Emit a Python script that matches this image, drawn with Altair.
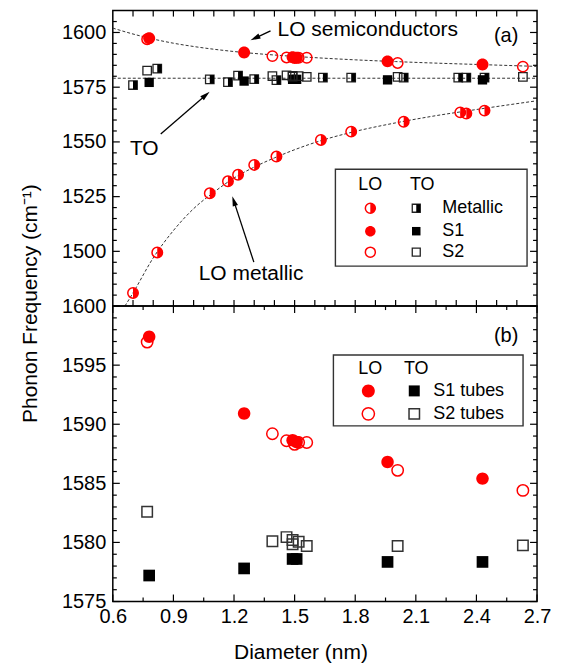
import math
import altair as alt
import pandas as pd

# ---------------- data ----------------
# S1 / S2 semiconducting tubes (used in both panels)
s1_lo_d = [0.78, 1.25, 1.49, 1.51, 1.96, 2.43]
s1_lo_w = [1597.4, 1590.9, 1588.65, 1588.5, 1586.8, 1585.4]
s2_lo_d = [0.77, 1.39, 1.46, 1.50, 1.52, 1.56, 2.01, 2.63]
s2_lo_w = [1596.95, 1589.2, 1588.6, 1588.3, 1588.45, 1588.45, 1586.1, 1584.4]
s1_to_d = [0.78, 1.25, 1.49, 1.51, 1.96, 2.43]
s1_to_w = [1577.2, 1577.8, 1578.6, 1578.6, 1578.35, 1578.35]
s2_to_d = [0.77, 1.39, 1.46, 1.49, 1.49, 1.52, 1.56, 2.01, 2.63]
s2_to_w = [1582.6, 1580.1, 1580.45, 1580.2, 1579.85, 1580.05, 1579.7, 1579.7, 1579.75]

# metallic tubes (panel a)
met_lo_d = [0.70, 0.82, 1.08, 1.17, 1.22, 1.30, 1.41, 1.63, 1.78, 2.04, 2.32, 2.35, 2.44]
met_lo_w = [1481, 1499.5, 1526.5, 1532, 1535, 1539.5, 1543.3, 1550.9, 1554.7, 1559.2, 1563.5, 1563, 1564.3]
met_to_d = [0.70, 0.82, 1.08, 1.17, 1.22, 1.30, 1.41, 1.64, 1.78, 2.04, 2.31, 2.35, 2.44]
met_to_w = [1576, 1583.5, 1578.6, 1577.3, 1580.3, 1578.7, 1578.2, 1579.4, 1579.4, 1579.4, 1579.4, 1579.4, 1579.4]

# dotted guide curves (panel a)
fit_semi_d = [0.6, 0.7, 0.8, 0.9, 1.0, 1.2, 1.4, 1.6, 1.8, 2.0, 2.2, 2.4, 2.7]
fit_semi_w = [1602, 1599.3, 1597, 1595.1, 1593.6, 1591.3, 1589.7, 1588.5, 1587.5, 1586.7, 1586, 1585.4, 1584.5]
fit_to_d = [0.6, 2.7]
fit_to_w = [1579.1, 1579.1]
fit_met_d = [0.66, 0.70, 0.8, 0.9, 1.0, 1.1, 1.2, 1.3, 1.4, 1.6, 1.8, 2.0, 2.2, 2.4, 2.7]
fit_met_w = [1475, 1481, 1497, 1509.5, 1519.5, 1527, 1533.5, 1538.5, 1542.7, 1549.7, 1554.8, 1558.7, 1562, 1564.8, 1568.8]

# axis ticks / labels
x_domain = [0.6, 2.7]
a_y_domain = [1475, 1610]
b_y_domain = [1575, 1600]
a_y_labels = [1500, 1525, 1550, 1575, 1600]
a_y_major = [1475, 1500, 1525, 1550, 1575, 1600]
a_y_minor = [v for v in range(1480, 1610, 5) if v % 25 != 0]
a_x_ticks = [round(0.7 + 0.1 * i, 2) for i in range(20)]
b_y_labels = [1575, 1580, 1585, 1590, 1595, 1600]
b_y_minor = [v for v in range(1576, 1600) if v % 5 != 0]
b_x_labels = [0.6, 0.9, 1.2, 1.5, 1.8, 2.1, 2.4, 2.7]
b_x_minor = [0.75, 1.05, 1.35, 1.65, 1.95, 2.25, 2.55]

# ---------------- styling ----------------
W, H = 425, 296
RED = "#ff0000"
FONT = "Liberation Sans"
CIRCLE = "M1,0A1,1,0,1,1,-1,0A1,1,0,1,1,1,0Z"
HALF_CIRCLE = "M0,-1A1,1,0,0,1,0,1Z"
SQUARE = "M-1,-1L1,-1L1,1L-1,1Z"
HALF_SQUARE = "M0,-1L1,-1L1,1L0,1Z"
ARROW_HEAD = "M0,-1L0.55,1L-0.55,1Z"

dummy = pd.DataFrame({"k": [0]})

xs = alt.Scale(domain=x_domain, nice=False, zero=False)
ysa = alt.Scale(domain=a_y_domain, nice=False, zero=False)
ysb = alt.Scale(domain=b_y_domain, nice=False, zero=False)

ax_a_y = alt.Axis(values=a_y_labels, format="d", ticks=False, domain=False, grid=False,
                  labelFontSize=20, labelPadding=7, title=None,
                  labelFlush=False, labelOverlap=False)
ax_b_x = alt.Axis(values=b_x_labels, format=".1f", ticks=False, domain=False,
                  grid=False, labelFontSize=20, labelPadding=5,
                  labelFlush=False, labelOverlap=False,
                  title="Diameter (nm)", titleFontSize=21,
                  titleFontWeight="normal", titleX=188, titleY=51,
                  titleAlign="center", titleBaseline="middle")
ax_b_y = alt.Axis(values=b_y_labels, format="d", ticks=False, domain=False, grid=False,
                  labelFontSize=20, labelPadding=7,
                  labelFlush=False, labelOverlap=False,
                  title="Phonon Frequency (cm⁻¹)", titleFontSize=21,
                  titleFontWeight="normal", titleX=-82, titleY=-3,
                  titleAngle=270, titleAlign="center",
                  titleBaseline="middle")

# panel settings: (x scale, y scale, x axis, y axis)
PA = (xs, ysa, None, ax_a_y)
PB = (xs, ysb, ax_b_x, ax_b_y)


def X(field, P):
    return alt.X(field, scale=P[0], axis=P[2])


def Y(field, P):
    return alt.Y(field, scale=P[1], axis=P[3])


def points(d, w, shape, size, filled, color, P, sw=1.5):
    df = pd.DataFrame({"d": d, "w": w})
    if filled:
        mk = alt.Chart(df).mark_point(shape=shape, size=size, filled=True, fill=color,
                                      strokeWidth=0, opacity=1)
    else:
        mk = alt.Chart(df).mark_point(shape=shape, size=size, filled=False, stroke=color,
                                      fill=None, strokeWidth=sw, opacity=1)
    return mk.encode(x=X("d:Q", P), y=Y("w:Q", P))


def curve(d, w, P):
    df = pd.DataFrame({"d": d, "w": w})
    return alt.Chart(df).mark_line(color="#333333", strokeWidth=1, strokeDash=[3, 2],
                                   interpolate="monotone", clip=True).encode(
        x=X("d:Q", P), y=Y("w:Q", P))


def ticks(vals, orient, size, P):
    df = pd.DataFrame({"v": vals})
    m = alt.Chart(df).mark_rule(color="black", strokeWidth=1.2)
    if orient == "left":
        return m.encode(y=Y("v:Q", P), x=alt.value(0), x2=alt.value(size))
    if orient == "right":
        return m.encode(y=Y("v:Q", P), x=alt.value(W), x2=alt.value(W - size))
    if orient == "bottom":
        return m.encode(x=X("v:Q", P), y=alt.value(H), y2=alt.value(H - size))
    return m.encode(x=X("v:Q", P), y=alt.value(0), y2=alt.value(size))


def text(s, x, y, size=21, align="left"):
    return alt.Chart(dummy).mark_text(align=align, baseline="middle", fontSize=size,
                                      font=FONT, color="black").encode(
        x=alt.value(x), y=alt.value(y), text=alt.value(s))


def sym(x, y, shape, size, filled, color, sw=1.5):
    if filled:
        m = alt.Chart(dummy).mark_point(shape=shape, size=size, filled=True, fill=color,
                                        strokeWidth=0, opacity=1)
    else:
        m = alt.Chart(dummy).mark_point(shape=shape, size=size, filled=False, stroke=color,
                                        fill=None, strokeWidth=sw, opacity=1)
    return m.encode(x=alt.value(x), y=alt.value(y))


def box(x1, y1, x2, y2):
    return alt.Chart(dummy).mark_rect(fill="white", stroke="#333333", strokeWidth=1.4).encode(
        x=alt.value(x1), x2=alt.value(x2), y=alt.value(y1), y2=alt.value(y2))


def arrow(x1, y1, x2, y2, head=10):
    dx, dy = x2 - x1, y2 - y1
    L = math.hypot(dx, dy)
    ux, uy = dx / L, dy / L
    ang = math.degrees(math.atan2(ux, -uy)) % 360
    line = alt.Chart(dummy).mark_rule(color="black", strokeWidth=1.3).encode(
        x=alt.value(x1), y=alt.value(y1),
        x2=alt.value(x2 - ux * head * 0.8), y2=alt.value(y2 - uy * head * 0.8))
    hd = alt.Chart(dummy).mark_point(shape=ARROW_HEAD, size=head * head, filled=True,
                                     fill="black", strokeWidth=0, opacity=1, angle=ang).encode(
        x=alt.value(x2 - ux * head / 2), y=alt.value(y2 - uy * head / 2))
    return [line, hd]


# ---------------- panel (a) ----------------
layers_a = [curve(fit_semi_d, fit_semi_w, PA),
            curve(fit_to_d, fit_to_w, PA),
            curve(fit_met_d, fit_met_w, PA),
            ticks(a_y_major, "left", 7, PA), ticks(a_y_minor, "left", 4, PA),
            ticks(a_y_major, "right", 7, PA), ticks(a_y_minor, "right", 4, PA),
            ticks(a_x_ticks, "top", 6, PA), ticks(a_x_ticks, "bottom", 6, PA),
            # metallic
            points(met_to_d, met_to_w, SQUARE, 72, False, "#222222", PA, 1.3),
            points(met_to_d, met_to_w, HALF_SQUARE, 72, True, "#000000", PA),
            points(met_lo_d, met_lo_w, CIRCLE, 110, False, RED, PA),
            points(met_lo_d, met_lo_w, HALF_CIRCLE, 110, True, RED, PA),
            # S1 / S2
            points(s1_to_d, s1_to_w, SQUARE, 87, True, "#000000", PA),
            points(s2_to_d, s2_to_w, SQUARE, 72, False, "#222222", PA, 1.3),
            points(s1_lo_d, s1_lo_w, CIRCLE, 144, True, RED, PA),
            points(s2_lo_d, s2_lo_w, CIRCLE, 110, False, RED, PA),
            # legend
            box(223, 159, 415, 256),
            text("LO", 258, 175, 18, "center"), text("TO", 310, 175, 18, "center"),
            sym(258, 198, CIRCLE, 100, False, RED), sym(258, 198, HALF_CIRCLE, 100, True, RED),
            sym(304, 198, SQUARE, 64, False, "#222222", 1.3), sym(304, 198, HALF_SQUARE, 64, True, "#000000"),
            sym(258, 221, CIRCLE, 110, True, RED), sym(304, 221, SQUARE, 72, True, "#000000"),
            sym(258, 242, CIRCLE, 100, False, RED), sym(304, 242, SQUARE, 64, False, "#222222", 1.3),
            text("Metallic", 330, 198, 18), text("S1", 330, 221, 18), text("S2", 330, 242, 18),
            # annotations
            text("LO semiconductors", 165, 19, 21),
            text("TO", 31.5, 139, 21, "center"),
            text("LO metallic", 86, 264, 21),
            text("(a)", 394, 25, 20, "center"),
            ]
layers_a += arrow(158, 20.3, 138, 29.7)
layers_a += arrow(48, 123.7, 97, 81.3)
layers_a += arrow(141.3, 252, 119.7, 186)

panel_a = alt.layer(*layers_a).properties(width=W, height=H)

# ---------------- panel (b) ----------------
layers_b = [ticks(b_y_labels, "left", 7, PB), ticks(b_y_minor, "left", 4, PB),
            ticks(b_y_labels, "right", 7, PB), ticks(b_y_minor, "right", 4, PB),
            ticks(b_x_labels, "bottom", 7, PB), ticks(b_x_minor, "bottom", 4, PB),
            ticks(b_x_labels, "top", 7, PB), ticks(b_x_minor, "top", 4, PB),
            points(s1_to_d, s1_to_w, SQUARE, 137, True, "#000000", PB),
            points(s2_to_d, s2_to_w, SQUARE, 110, False, "#333333", PB, 1.5),
            points(s1_lo_d, s1_lo_w, CIRCLE, 156, True, RED, PB),
            points(s2_lo_d, s2_lo_w, CIRCLE, 130, False, RED, PB),
            box(221, 49, 411, 120),
            text("LO", 258, 63, 18, "center"), text("TO", 304, 63, 18, "center"),
            sym(256, 85, CIRCLE, 169, True, RED), sym(302, 85, SQUARE, 121, True, "#000000"),
            sym(256, 108, CIRCLE, 150, False, RED), sym(302, 108, SQUARE, 110, False, "#333333"),
            text("S1 tubes", 321, 85, 18), text("S2 tubes", 321, 108, 18),
            text("(b)", 394, 30, 20, "center"),
            ]
panel_b = alt.layer(*layers_b).properties(width=W, height=H)

chart = alt.vconcat(panel_a, panel_b, spacing=0, bounds="flush").properties(
    padding={"left": 11, "top": 0, "right": 5, "bottom": 5}
).configure_view(stroke="black", strokeWidth=1.5).configure_axis(
    labelFont=FONT, titleFont=FONT, labelColor="black", titleColor="black"
).configure_text(font=FONT)

chart.save("out.html", embed_options={"renderer": "svg", "actions": False})
